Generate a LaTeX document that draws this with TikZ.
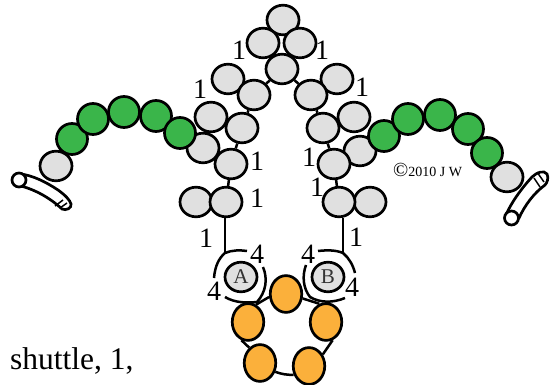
\documentclass[tikz,border=0pt]{standalone}
\usepackage{fontspec}
\setmainfont{Liberation Serif}
\usetikzlibrary{shapes.geometric}
\tikzset{
  x=1pt,y=-1pt,
  bead/.style={ellipse,draw=black,line width=2.7pt,inner sep=0pt,minimum width=32pt,minimum height=29.6pt},
  graybead/.style={bead,fill=beadgray},
  greenbead/.style={bead,fill=beadgreen,minimum width=31pt,minimum height=31pt},
  orangebead/.style={bead,fill=beadorange,minimum width=31.5pt,minimum height=36.8pt},
  letterbead/.style={graybead,font=\fontsize{21}{21}\selectfont,text=black!80},
  thread/.style={draw=black,line width=2.5pt},
  num/.style={inner sep=0pt,font=\fontsize{28}{28}\selectfont},
  pin/.style={draw=black,line width=2.7pt,fill=white},
  pinhole/.style={circle,pin,minimum size=14pt,inner sep=0pt},
  hatch/.style={line width=1.5pt},
}
\definecolor{beadgray}{HTML}{E0E0E0}
\definecolor{beadgreen}{HTML}{3AB54A}
\definecolor{beadorange}{HTML}{FBB03B}
\begin{document}
\begin{tikzpicture}
\useasboundingbox (0,0) rectangle (560,385);
% pins
\draw[pin] (20,174) .. controls (32,175) and (46,182) .. (58,190) .. controls (65,195) and (70,200) .. (71,204) .. controls (72,208) and (66,211) .. (62,209) .. controls (50,198) and (36,190) .. (21,186) -- cycle;
\draw[hatch] (55,206) -- (63,200) (60,208) -- (67,203);
\node[pinhole] (pinL) at (19,180) {};
\draw[pin] (506,215) .. controls (510,205) and (520,190) .. (532,177) .. controls (537,172) and (544,170) .. (547,174) .. controls (549,178) and (547,183) .. (545,185) .. controls (534,193) and (525,205) .. (519,218) -- cycle;
\draw[hatch] (537,172) -- (544,182) (534,178) -- (540,187);
\node[pinhole] (pinR) at (511.5,218) {};
% gray beads
\node[graybead] (t0) at (283,20) {};
\node[graybead] (t1) at (263,43) {};
\node[graybead] (t2) at (300,43) {};
\node[graybead] (t3) at (282,69) {};
\node[graybead] (l1) at (228,79) {};
\node[graybead] (l2) at (254,95) {};
\node[graybead] (r1) at (337,79) {};
\node[graybead] (r2) at (311,95) {};
\node[graybead] (l3) at (211,117) {};
\node[graybead] (l4) at (242,128) {};
\node[graybead] (r3) at (354,117) {};
\node[graybead] (r4) at (323,128) {};
\node[graybead] (l5) at (203,148) {};
\node[graybead] (l6) at (231,164) {};
\node[graybead] (r5) at (360,151) {};
\node[graybead] (r6) at (334,164) {};
\node[graybead] (l7) at (196,202) {};
\node[graybead] (l8) at (226,202) {};
\node[graybead] (r8) at (370,202) {};
\node[graybead] (r7) at (339,202) {};
\node[graybead] (gL) at (56,166) {};
\node[graybead] (gR) at (507,177) {};
% green beads
\node[greenbead] (a1) at (72,139) {};
\node[greenbead] (a2) at (93,119) {};
\node[greenbead] (a3) at (124,112) {};
\node[greenbead] (a4) at (156,116) {};
\node[greenbead] (a5) at (180,133) {};
\node[greenbead] (b1) at (384,136) {};
\node[greenbead] (b2) at (408,119) {};
\node[greenbead] (b3) at (440,115) {};
\node[greenbead] (b4) at (468,129) {};
\node[greenbead] (b5) at (487,153) {};
% centre beads
\node[letterbead] (A) at (241,277) {A};
\node[letterbead] (B) at (328,277) {B};
% orange beads
\node[orangebead] (o1) at (286,294) {};
\node[orangebead] (o2) at (248,322) {};
\node[orangebead] (o3) at (326,322) {};
\node[orangebead] (o4) at (260,363) {};
\node[orangebead] (o5) at (309,366) {};
% threads
\draw[thread] (t3) -- (l2);
\draw[thread] (l2) -- (l4);
\draw[thread] (l4) -- (l6);
\draw[thread] (l6) -- (l8);
\draw[thread] (t3) -- (r2);
\draw[thread] (r2) -- (r4);
\draw[thread] (r4) -- (r6);
\draw[thread] (r6) -- (r7);
\coordinate (jA) at (225,253);
\coordinate (jB) at (343,253);
\draw[thread] (jA |- l8.south) -- (jA);
\draw[thread] (jB |- r7.south) -- (jB);
% rings
\draw[thread] (214,278) .. controls (215,266) and (219,258) .. (jA) .. controls (232,250) and (240,250) .. (247,251);
\draw[thread] (225,297) .. controls (235,303) and (247,303) .. (257,302) .. controls (266,292) and (268,279) .. (263,267);
\draw[thread] (318,251) .. controls (327,250) and (336,250) .. (jB) .. controls (349,258) and (353,265) .. (355,273);
\draw[thread] (345,298) .. controls (333,303) and (320,303) .. (310,297) .. controls (303,288) and (302,276) .. (306,265);
% orange ring
\draw[thread] (o1.190) -- (o2.65);
\draw[thread] (o1.-15) -- (o3.110);
\draw[thread] (o2.250) -- (o4.125);
\draw[thread] (o3.-70) -- (o5.40);
\draw[thread] (o4.-30) to[bend right=10] (o5.210);
% labels
\node[num] (n1) at (239,50) {1};
\node[num] (n2) at (322,50) {1};
\node[num] (n3) at (200,89) {1};
\node[num] (n4) at (362,87) {1};
\node[num] (n5) at (257,161) {1};
\node[num] (n6) at (309,157) {1};
\node[num] (n7) at (257,198) {1};
\node[num] (n8) at (317,187) {1};
\node[num] (n9) at (206,238) {1};
\node[num] (n10) at (356,237) {1};
\node[num] (n11) at (257,254) {4};
\node[num] (n12) at (308,254) {4};
\node[num] (n13) at (214,291) {4};
\node[num] (n14) at (352,287) {4};
\node[inner sep=0pt,anchor=base west,font=\fontsize{20}{20}\selectfont] (cp) at (393,177) {©\fontsize{14}{14}\selectfont 2010 J W};
\node[inner sep=0pt,anchor=base west,font=\fontsize{31.5}{32}\selectfont] (txt) at (10,369) {shuttle, 1,};
\end{tikzpicture}
\end{document}
